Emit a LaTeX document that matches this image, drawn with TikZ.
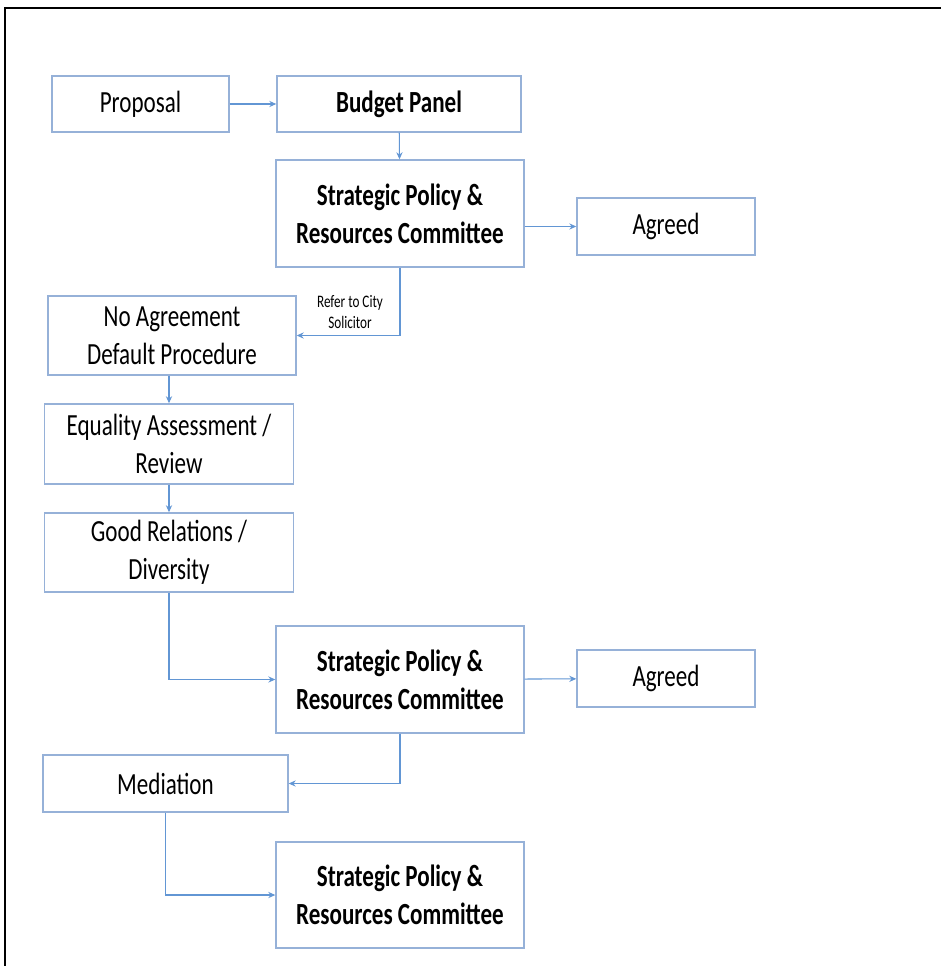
\documentclass[tikz,border=0pt]{standalone}
\usepackage{fontspec}
\setmainfont{Carlito}[FakeStretch=0.75]
\usetikzlibrary{arrows.meta}
\definecolor{boxline}{RGB}{150,177,216}
\definecolor{linkline}{RGB}{98,150,212}

\begin{document}
\begin{tikzpicture}[
        x=0.02cm, y=-0.02cm,
        >={Stealth[length=4pt,width=3.5pt]},
        box/.style={rectangle, draw=boxline, line width=0.8pt, align=center, inner sep=2pt,
            font=\fontsize{17.5}{21.5}\selectfont},
        boldbox/.style={box, font=\fontsize{17.5}{21.5}\selectfont\bfseries},
        link/.style={->, draw=linkline, line width=0.6pt},
        note/.style={align=center, inner sep=0pt, font=\fontsize{10}{11.5}\selectfont}
    ]
        \useasboundingbox (0,0) rectangle (941,966);
        % frame lines (top and left only)
        \draw [line width=1.4pt] (4,8) -- (941,8);
        \draw [line width=1.4pt] (5,8) -- (5,966);

        % Top row
        \node (proposal) [box, minimum width=3.54cm, minimum height=1.12cm] at (140.5,104) {Proposal};
        \node (budget) [boldbox, minimum width=4.88cm, minimum height=1.12cm] at (399,104) {Budget Panel};

        % First committee
        \node (sprcA) [boldbox, minimum width=4.96cm, minimum height=2.14cm] at (400,213.5) {Strategic Policy \&\\Resources Committee};
        \node (agreedA) [box, minimum width=3.56cm, minimum height=1.14cm] at (666,226.5) {Agreed};

        % Left column
        \node (noagree) [box, minimum width=4.96cm, minimum height=1.58cm] at (172,335.5) {No Agreement\\Default Procedure};
        \node (equality) [box, minimum width=4.98cm, minimum height=1.60cm] at (169,444) {Equality Assessment /\\Review};
        \node (goodrel) [box, minimum width=4.98cm, minimum height=1.58cm] at (169,552.5) {Good Relations /\\Diversity};

        % Second committee
        \node (sprcB) [boldbox, minimum width=4.96cm, minimum height=2.14cm] at (400,679.5) {Strategic Policy \&\\Resources Committee};
        \node (agreedB) [box, minimum width=3.56cm, minimum height=1.14cm] at (666,678.5) {Agreed};

        % Mediation and last committee
        \node (mediation) [box, minimum width=4.90cm, minimum height=1.14cm] at (165.5,783.5) {Mediation};
        \node (sprcC) [boldbox, minimum width=4.96cm, minimum height=2.12cm] at (400,895) {Strategic Policy \&\\Resources Committee};

        % Label on the solicitor link
        \node (refer) [note] at (350,312) {Refer to City\\Solicitor};

        % Connections
        \draw [link] (proposal) -- (budget);
        \draw [link] (budget) -- (sprcA);
        \draw [link] (agreedA.west -| sprcA.east) -- (agreedA.west);
        \draw [link] (sprcA.south) |- (noagree.east);
        \draw [link] (noagree.south -| equality.north) -- (equality.north);
        \draw [link] (equality) -- (goodrel);
        \draw [link] (goodrel.south) |- (sprcB.west);
        \draw [link] (sprcB) -- (agreedB);
        \draw [link] (sprcB.south) |- (mediation.east);
        \draw [link] (mediation.south) |- (sprcC.west);
    \end{tikzpicture}
\end{document}
